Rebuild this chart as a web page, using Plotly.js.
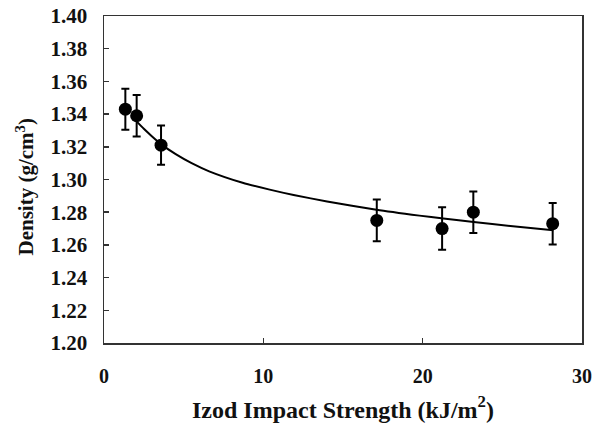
<!DOCTYPE html>
<html>
<head>
<meta charset="utf-8">
<script src="https://cdn.plot.ly/plotly-3.0.1.min.js"></script>
<style>html,body{margin:0;padding:0;background:#fff;}#chart{width:592px;height:424px;}</style>
</head>
<body>
<div id="chart"></div>
<script>
// Measured data points (Izod impact strength vs density)
const impactStrength = [1.34, 2.05, 3.58, 17.12, 21.22, 23.18, 28.16];
const density = [1.343, 1.339, 1.321, 1.275, 1.270, 1.280, 1.273];
const densityError = [0.0125, 0.0127, 0.012, 0.0127, 0.013, 0.0127, 0.0127];

// Fitted trend curve
const fitX = [2.0, 2.5, 3.0, 3.6, 4.5, 5.5, 6.6, 8.7, 10.4, 11.9, 14.0, 17.1, 19.8, 21.3, 23.2, 25.5, 28.2];
const fitY = [1.336, 1.331, 1.3265, 1.3215, 1.3155, 1.310, 1.305, 1.2980, 1.2938, 1.2905, 1.2866, 1.2815, 1.2779, 1.2761, 1.2740, 1.2716, 1.2690];

const xTicks = [0, 10, 20, 30];
const yTicks = [1.20, 1.22, 1.24, 1.26, 1.28, 1.30, 1.32, 1.34, 1.36, 1.38, 1.40];

const xTitle = '<b>Izod Impact Strength (kJ/m<sup>2</sup>)</b>';
const yTitle = '<b>Density (g/cm<sup>3</sup>)</b>';

const serif = 'Liberation Serif';

const traces = [
  {
    x: fitX, y: fitY, mode: 'lines', type: 'scatter',
    line: {color: '#000', width: 2, shape: 'spline', smoothing: 0.6},
    hoverinfo: 'skip', showlegend: false
  },
  {
    x: impactStrength, y: density, mode: 'markers', type: 'scatter',
    marker: {color: '#000', size: 13},
    error_y: {type: 'data', array: densityError, visible: true, color: '#000', thickness: 2, width: 4},
    showlegend: false
  }
];

const layout = {
  width: 592, height: 424,
  margin: {l: 104, r: 10, t: 16, b: 81},
  paper_bgcolor: '#fff', plot_bgcolor: '#fff',
  font: {family: serif, size: 20, color: '#111'},
  showlegend: false,
  xaxis: {
    range: [0, 30], tickvals: xTicks, ticktext: xTicks.map(v => '<b>' + v + '</b>'),
    ticks: 'inside', ticklen: 5, tickwidth: 1.5, tickcolor: '#333',
    showline: true, linecolor: '#333', linewidth: 1.5, mirror: true,
    showgrid: false, zeroline: false,
    tickfont: {family: serif, size: 20, color: '#111'},
    ticklabelstandoff: 14,
    title: {text: xTitle, font: {family: serif, size: 24, color: '#111'}, standoff: 15}
  },
  yaxis: {
    range: [1.20, 1.40], tickvals: yTicks, ticktext: yTicks.map(v => '<b>' + v.toFixed(2) + '</b>'),
    ticks: 'inside', ticklen: 5, tickwidth: 1.5, tickcolor: '#333',
    showline: true, linecolor: '#333', linewidth: 1.5, mirror: true,
    showgrid: false, zeroline: false,
    tickfont: {family: serif, size: 21, color: '#111'},
    ticklabelstandoff: 11
  },
  annotations: [{
    text: yTitle, textangle: -90, showarrow: false,
    xref: 'paper', yref: 'paper', x: 0, y: 0.5, xshift: -79, yshift: -8,
    xanchor: 'center', yanchor: 'middle',
    font: {family: serif, size: 21, color: '#111'}
  }]
};

Plotly.newPlot('chart', traces, layout, {displayModeBar: false, staticPlot: true});
</script>
</body>
</html>
